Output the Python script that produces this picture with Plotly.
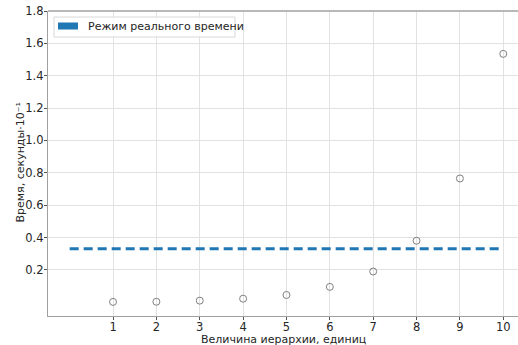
import plotly.graph_objects as go

hierarchy = [1, 2, 3, 4, 5, 6, 7, 8, 9, 10]
times = [0.002, 0.003, 0.01, 0.022, 0.045, 0.095, 0.19, 0.38, 0.765, 1.535]
realtime_x = [0, 10]
realtime_y = [0.33, 0.33]
y_ticks = [0.2, 0.4, 0.6, 0.8, 1.0, 1.2, 1.4, 1.6, 1.8]
x_ticks = [1, 2, 3, 4, 5, 6, 7, 8, 9, 10]
legend_label = "Режим реального времени"
x_title = "Величина иерархии, единиц"
y_title = "Время, секунды·10⁻¹"

FONT = "DejaVu Sans"

fig = go.Figure()
fig.add_trace(go.Scatter(
    x=realtime_x, y=realtime_y, mode="lines",
    line=dict(color="#1f77b4", width=3, dash="9px,5px"),
    showlegend=False, hoverinfo="skip"))
fig.add_trace(go.Scatter(
    x=hierarchy, y=times, mode="markers",
    marker=dict(symbol="circle-open", size=7, color="#808080", line=dict(width=1)),
    showlegend=False))

W, H = 518, 345
l, r, t, b = 48, 0, 11, 29
fig.update_layout(
    width=W, height=H,
    margin=dict(l=l, r=r, t=t, b=b),
    paper_bgcolor="white", plot_bgcolor="white",
    font=dict(family=FONT, size=11, color="#262626"),
    xaxis=dict(range=[-0.5, 10.34], tickvals=x_ticks, ticktext=[str(v) for v in x_ticks],
               showgrid=True, gridcolor="#e2e2e2", gridwidth=1,
               showline=True, linecolor="#a0a0a0", linewidth=1.3, mirror=False,
               ticks="outside", ticklen=3, tickcolor="#555", zeroline=False,
               tickfont=dict(size=11.5), ticklabelstandoff=-3),
    yaxis=dict(range=[-0.085, 1.8], tickvals=y_ticks, ticktext=[f"{v:.1f}" for v in y_ticks],
               showgrid=True, gridcolor="#e2e2e2", gridwidth=1,
               showline=True, linecolor="#a0a0a0", linewidth=1.3, mirror=False,
               ticks="outside", ticklen=3, tickcolor="#555", zeroline=False,
               tickfont=dict(size=11.5), ticklabelstandoff=-2),
)

# top spine
fig.add_shape(type="line", xref="paper", yref="paper", x0=0, x1=1, y0=1, y1=1,
              line=dict(color="#a0a0a0", width=1.3))

pw = W - l - r
ph = H - t - b
def px(x):
    return (x - l) / pw
def py(y):
    return 1 - (y - t) / ph

# axis titles
fig.add_annotation(text=x_title, xref="paper", yref="paper",
                   x=px(283), y=py(339), xanchor="center", yanchor="middle",
                   showarrow=False, font=dict(family=FONT, size=11, color="#262626"))
fig.add_annotation(text=y_title, xref="paper", yref="paper", textangle=-90,
                   x=px(19.5), y=py(163), xanchor="center", yanchor="middle",
                   showarrow=False, font=dict(family=FONT, size=11, color="#262626"))

# legend box (manual, matplotlib style)
fig.add_shape(type="rect", xref="paper", yref="paper",
              x0=px(54), x1=px(235), y0=py(37), y1=py(17),
              line=dict(color="#d8d8d8", width=1), fillcolor="rgba(255,255,255,0.85)")
fig.add_shape(type="rect", xref="paper", yref="paper",
              x0=px(58), x1=px(78), y0=py(29.5), y1=py(22.5),
              line=dict(width=0), fillcolor="#1f77b4")
fig.add_annotation(text=legend_label, xref="paper", yref="paper",
                   x=px(86), y=py(26.5), xanchor="left", yanchor="middle",
                   showarrow=False, font=dict(family=FONT, size=11, color="#262626"))

fig.write_html("out.html")
